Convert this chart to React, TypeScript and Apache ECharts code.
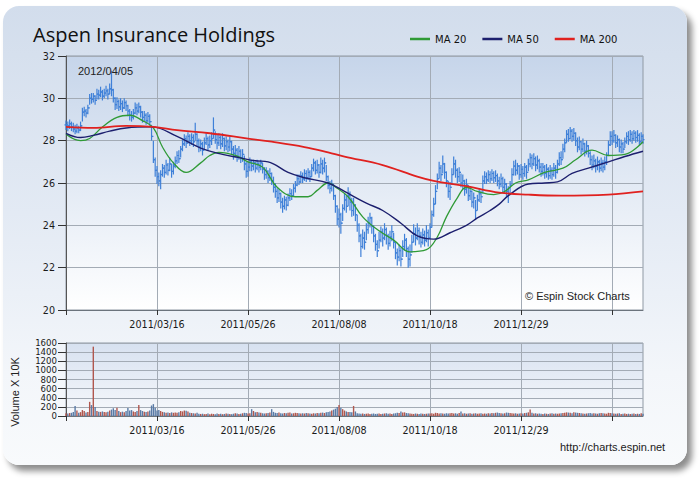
import React, { useEffect, useRef } from "react";
import * as echarts from "echarts";

const HOLIDAYS = ["2011/01/17", "2011/02/21", "2011/04/22", "2011/05/30", "2011/07/04", "2011/09/05", "2011/11/24", "2011/12/26", "2012/01/02", "2012/01/16", "2012/02/20"];
const FIRST_DAY = "2011-01-03";

const CLOSES = [28.75,28.70,28.80,28.65,28.55,28.45,28.60,28.50,28.70,29.35,
29.40,29.30,29.55,30.00,29.95,30.10,29.90,30.20,30.15,30.30,
30.10,30.25,30.35,30.20,30.45,30.40,30.00,29.70,29.85,29.60,
29.75,29.55,29.80,29.65,29.40,29.20,29.10,29.30,29.55,29.40,
29.60,29.35,29.10,29.20,28.95,29.15,28.90,28.20,27.10,26.60,
26.30,26.10,26.40,26.70,26.50,26.85,26.60,26.90,26.55,26.80,
27.05,27.30,27.15,27.60,27.85,28.10,27.90,28.20,28.00,28.15,
27.95,28.30,28.00,27.70,27.85,27.55,27.90,28.10,27.80,28.00,
28.10,28.50,28.05,27.90,28.15,27.85,28.10,27.75,27.95,27.70,
27.95,27.60,27.40,27.55,27.25,27.50,27.20,27.35,26.90,26.55,
26.75,27.00,26.80,26.95,26.70,26.90,26.75,26.95,26.65,26.40,
26.55,26.25,26.45,26.10,25.80,25.60,25.30,25.50,25.10,24.90,
25.20,24.95,25.30,25.50,25.40,25.75,25.90,26.20,26.05,26.35,
26.20,26.45,26.25,26.50,26.30,26.70,26.95,26.60,26.85,26.50,
26.90,26.70,26.95,26.30,25.90,25.75,25.95,25.40,24.90,24.30,
24.50,24.10,24.80,25.20,24.90,25.40,25.10,24.70,24.95,24.50,
24.00,23.50,23.00,23.40,23.20,23.80,24.10,24.35,23.95,23.50,
23.10,22.80,23.30,23.70,23.40,23.80,23.50,23.15,23.45,23.70,
23.20,22.70,22.50,22.80,22.40,23.00,23.30,22.90,22.40,22.60,
23.20,23.60,23.40,23.75,23.50,23.20,23.55,23.30,23.65,23.40,
23.90,24.50,25.00,25.60,26.20,26.70,26.40,26.90,26.50,26.10,
25.60,25.80,26.40,26.90,26.60,26.30,26.50,26.00,26.10,25.70,
25.90,25.40,25.60,25.10,25.30,24.70,25.20,25.50,25.35,26.10,
26.30,26.15,26.40,26.20,26.45,26.25,26.35,26.10,25.95,26.20,
25.80,25.95,25.60,25.50,25.90,26.40,26.80,26.60,26.80,26.40,
26.65,26.45,26.75,26.50,26.90,27.20,26.90,27.15,26.85,27.05,
26.75,26.55,26.75,26.45,26.65,26.35,26.60,26.40,26.70,26.50,
26.90,27.20,27.10,27.60,27.90,28.30,28.10,28.45,28.20,28.35,
28.00,27.70,27.95,27.60,27.85,27.50,27.75,27.40,27.10,26.85,
27.05,26.80,27.00,26.70,26.95,26.75,27.00,27.30,27.80,28.20,
28.00,28.25,27.90,28.05,27.70,27.85,27.60,27.95,28.20,28.05,
28.30,28.10,28.35,28.15,28.25,27.95,28.20,28.05];

const HIGHS = [28.95,28.90,29.00,28.90,28.85,28.75,28.80,28.70,28.90,29.55,
29.60,29.50,29.70,30.20,30.25,30.25,30.15,30.45,30.40,30.55,
30.40,30.45,30.60,30.45,30.70,31.30,30.45,30.05,30.05,29.95,
30.00,29.90,30.00,29.90,29.70,29.50,29.40,29.50,29.80,29.75,
29.80,29.65,29.40,29.40,29.30,29.35,29.25,28.75,28.00,27.20,
26.80,26.50,26.60,26.90,26.85,27.10,26.95,27.20,26.90,27.00,
27.25,27.50,27.55,27.75,28.05,28.30,28.25,28.40,28.30,28.35,
28.30,28.85,28.35,28.10,28.05,27.95,28.15,28.35,28.20,28.25,
28.40,29.10,28.45,28.30,28.35,28.25,28.35,28.15,28.20,28.05,
28.20,28.00,27.75,27.80,27.65,27.75,27.60,27.60,27.30,27.00,
27.00,27.20,27.10,27.10,27.00,27.10,27.00,27.10,26.95,26.75,
26.75,26.60,26.70,26.50,26.30,26.00,25.75,25.70,25.55,25.30,
25.40,25.35,25.50,25.75,25.70,25.95,26.10,26.40,26.40,26.55,
26.50,26.65,26.60,26.70,26.60,26.90,27.15,27.05,27.10,26.90,
27.20,27.10,27.20,26.85,26.35,26.10,26.15,25.95,25.45,24.95,
24.80,24.60,25.00,25.50,25.40,25.80,25.60,25.30,25.30,25.00,
24.50,24.10,23.60,23.80,23.70,24.10,24.40,24.60,24.40,24.00,
23.60,23.30,23.70,23.95,23.85,24.10,23.90,23.60,23.75,24.00,
23.65,23.20,22.90,23.10,22.95,23.30,23.60,23.40,23.00,23.10,
23.55,24.05,23.90,24.10,23.90,23.70,23.85,23.75,24.00,23.80,
24.10,24.70,25.30,25.90,26.45,27.00,26.85,27.30,26.95,26.55,
26.10,26.05,26.70,27.25,27.10,26.70,26.75,26.45,26.40,26.15,
26.20,25.90,25.85,25.65,25.55,25.20,25.45,25.70,25.65,26.35,
26.55,26.50,26.60,26.55,26.65,26.55,26.60,26.45,26.30,26.45,
26.30,26.20,26.00,25.85,26.10,26.70,27.05,27.10,26.95,26.85,
26.90,26.80,26.95,26.85,27.15,27.40,27.35,27.40,27.25,27.30,
27.15,26.95,26.95,26.85,26.90,26.75,26.85,26.75,26.95,26.85,
27.10,27.45,27.50,27.85,28.10,28.50,28.55,28.65,28.55,28.60,
28.40,28.15,28.20,28.00,28.10,27.90,28.00,27.80,27.50,27.30,
27.35,27.15,27.25,27.10,27.20,27.10,27.25,27.45,28.00,28.45,
28.45,28.50,28.30,28.25,28.10,28.05,27.95,28.15,28.40,28.45,
28.50,28.45,28.50,28.45,28.50,28.35,28.40,28.30];

const LOWS = [28.50,28.45,28.55,28.45,28.40,28.30,28.35,28.35,28.45,28.90,
29.15,29.10,29.25,29.70,29.75,29.80,29.70,29.95,29.95,30.05,
29.90,30.00,30.10,29.95,30.20,30.10,29.80,29.45,29.50,29.40,
29.45,29.35,29.50,29.40,29.15,28.95,28.90,29.00,29.25,29.20,
29.30,29.10,28.85,28.90,28.75,28.85,28.70,28.00,26.95,26.30,
25.95,25.85,25.70,26.30,26.25,26.40,26.35,26.55,26.25,26.40,
26.70,26.90,26.95,27.20,27.50,27.75,27.65,27.85,27.75,27.80,
27.70,28.00,27.75,27.45,27.50,27.30,27.55,27.80,27.55,27.65,
27.80,28.10,27.85,27.60,27.75,27.60,27.70,27.50,27.55,27.45,
27.50,27.35,27.10,27.20,27.00,27.10,26.95,27.00,26.60,26.25,
26.30,26.55,26.55,26.60,26.50,26.60,26.50,26.60,26.45,26.15,
26.20,26.00,26.10,25.90,25.55,25.30,25.05,25.10,24.80,24.60,
24.75,24.70,24.90,25.15,25.20,25.35,25.55,25.85,25.90,26.00,
26.00,26.10,26.05,26.15,26.05,26.30,26.55,26.40,26.45,26.25,
26.45,26.40,26.50,26.10,25.70,25.50,25.60,25.20,24.60,24.00,
23.90,23.60,24.20,24.70,24.60,24.90,24.70,24.40,24.45,24.20,
23.70,23.20,22.50,22.90,22.85,23.30,23.60,23.90,23.60,23.20,
22.80,22.50,22.90,23.20,23.00,23.30,23.10,22.85,23.00,23.25,
22.90,22.40,22.10,22.30,22.05,22.50,22.80,22.50,22.00,22.05,
22.70,23.20,23.05,23.30,23.10,22.95,23.10,23.00,23.20,23.00,
23.35,23.90,24.40,25.00,25.70,26.20,26.10,26.45,26.20,25.80,
25.30,25.20,25.90,26.40,26.25,26.00,26.05,25.80,25.70,25.40,
25.50,25.15,25.20,24.85,24.80,24.25,24.70,25.10,25.05,25.50,
25.95,25.95,26.05,26.00,26.10,26.00,26.05,25.85,25.70,25.80,
25.55,25.50,25.35,25.05,25.45,25.95,26.35,26.35,26.40,26.15,
26.25,26.15,26.30,26.20,26.55,26.75,26.65,26.80,26.55,26.65,
26.50,26.30,26.35,26.20,26.25,26.15,26.20,26.15,26.30,26.20,
26.45,26.80,26.85,27.15,27.45,27.90,27.95,28.05,27.95,28.00,
27.75,27.45,27.55,27.35,27.45,27.25,27.35,27.20,26.85,26.60,
26.70,26.50,26.60,26.50,26.55,26.50,26.60,26.85,27.30,27.75,
27.80,27.90,27.65,27.70,27.45,27.40,27.40,27.65,27.85,27.80,
27.95,27.85,28.00,27.90,27.95,27.80,27.85,27.85];

const VOLUMES = [60,55,65,70,90,220,120,70,85,130,
110,75,90,310,240,1520,200,110,95,90,
100,85,80,95,120,140,170,130,180,110,
85,95,80,110,175,120,130,100,90,110,
240,130,110,95,90,100,120,230,260,180,
120,130,110,90,80,70,75,65,80,70,
75,70,80,110,100,120,115,100,70,65,
60,55,70,50,45,50,40,45,55,40,
50,45,40,55,45,50,40,45,55,50,
45,40,50,60,55,45,50,60,70,65,
55,60,150,110,80,90,75,70,60,55,
60,65,75,150,90,70,65,75,60,55,
65,60,70,75,55,60,70,65,60,55,
60,55,65,60,55,50,60,55,65,60,
70,75,65,80,90,100,120,140,160,200,
240,180,150,120,100,90,85,80,220,100,
60,55,50,55,45,50,55,45,50,55,
45,50,55,45,50,55,60,50,55,45,
55,60,70,65,100,75,80,65,60,55,
50,45,55,50,45,55,50,45,50,55,
55,60,50,70,65,55,60,55,50,60,
55,60,65,55,60,50,65,100,55,60,
50,55,60,50,55,60,50,55,60,50,
55,50,60,55,65,60,70,75,65,60,
55,60,75,70,65,60,55,60,50,55,
60,55,65,70,80,140,70,55,60,50,
55,50,45,55,50,45,55,60,50,55,
50,55,60,65,70,80,75,70,60,80,
75,70,65,60,55,50,55,60,65,55,
60,55,50,60,65,60,55,50,70,65,
60,55,50,55,60,45,50,55,45,50,
45,50,55,45,50,45,60,50];

// moving averages: [bar index, value]
const MA20 = [[0,28.3],[8,28.0],[13,28.1],[20,28.65],[28,29.1],[35,29.2],[42,28.95],[48,28.6],[53,27.7],[59,26.95],[66,26.5],[74,26.95],[79,27.3],[84,27.45],[93,27.3],[100,27.0],[108,26.75],[116,25.8],[126,25.35],[133,25.35],[138,25.65],[144,26.0],[149,25.75],[155,25.35],[163,24.4],[171,23.8],[180,23.3],[189,22.75],[198,22.85],[204,23.45],[209,24.4],[215,25.3],[220,25.8],[226,25.6],[235,25.45],[241,25.6],[247,26.0],[254,26.15],[263,26.5],[273,26.7],[280,27.1],[289,27.55],[298,27.3],[307,27.35],[317,27.95]];
const MA50 = [[0,28.35],[8,28.15],[15,28.25],[24,28.45],[33,28.6],[47,28.65],[61,28.2],[74,27.65],[86,27.35],[95,27.2],[104,27.05],[111,27.0],[122,26.5],[131,26.25],[144,26.0],[153,25.6],[165,25.05],[174,24.7],[184,24.1],[193,23.5],[202,23.35],[211,23.65],[220,24.0],[226,24.35],[233,24.7],[238,25.0],[243,25.4],[254,25.95],[263,26.0],[270,26.05],[278,26.45],[287,26.7],[298,27.0],[307,27.25],[317,27.5]];
const MA200 = [[0,28.65],[15,28.6],[33,28.7],[48,28.65],[61,28.5],[79,28.35],[100,28.1],[113,27.95],[131,27.7],[144,27.45],[153,27.25],[174,26.85],[193,26.3],[202,26.1],[220,25.85],[238,25.55],[254,25.45],[272,25.4],[298,25.45],[317,25.6]];

const PRICE_TICKS = { min: 20, max: 32, interval: 2 };
const VOLUME_TICKS = { min: 0, max: 1600, interval: 200 };

function buildTradingDays(start: string, count: number, holidays: string[]) {
  const out: string[] = [];
  const d = new Date(start + "T00:00:00Z");
  while (out.length < count) {
    const wd = d.getUTCDay();
    const s = `${d.getUTCFullYear()}/${String(d.getUTCMonth() + 1).padStart(2, "0")}/${String(d.getUTCDate()).padStart(2, "0")}`;
    if (wd !== 0 && wd !== 6 && holidays.indexOf(s) < 0) out.push(s);
    d.setUTCDate(d.getUTCDate() + 1);
  }
  return out;
}

const DATES = buildTradingDays(FIRST_DAY, CLOSES.length, HOLIDAYS);

const AXIS_FONT = "DejaVu Sans";
const GRID_LINE = "#a3abb5";

function buildOption() {
  const opens = CLOSES.map((c, i) => (i === 0 ? c : CLOSES[i - 1]));
  const ohlc = CLOSES.map((c, i) => [i, opens[i], c, LOWS[i], HIGHS[i]]);
  const vol = VOLUMES.map((v, i) => ({
    value: v,
    itemStyle: { color: CLOSES[i] >= opens[i] ? "#b0574e" : "#5a7ba6" },
  }));
  const labelShow = (i: number) => i > 0 && i < 300 && i % 50 === 0;
  const tickShow = (i: number) => i % 50 === 0;

  const xCommon = (gridIndex: number) => ({
    type: "category",
    gridIndex,
    data: DATES,
    boundaryGap: false,
    axisLine: { show: true, lineStyle: { color: "#6b737c", width: 1 } },
    axisTick: { show: true, interval: tickShow, length: 5, lineStyle: { color: "#333" } },
    axisLabel: { interval: labelShow, margin: 9, color: "#1a1a1a", fontFamily: AXIS_FONT, fontSize: 9.6 },
    splitLine: { show: true, interval: tickShow, lineStyle: { color: GRID_LINE, width: 1 } },
  });

  const barColor = "#3f80d8";

  return {
    animation: false,
    legend: {
      data: ["MA 20", "MA 50", "MA 200"],
      left: 410,
      top: 34,
      padding: 0,
      icon: "rect",
      itemWidth: 20,
      itemHeight: 2.5,
      itemGap: 16,
      textStyle: { fontFamily: AXIS_FONT, fontSize: 10, color: "#111" },
    },
    grid: [
      {
        left: 66, top: 56, width: 577, height: 254, show: true,
        borderColor: "#8f99a4", borderWidth: 1,
        backgroundColor: { type: "linear", x: 0, y: 0, x2: 0, y2: 1, colorStops: [{ offset: 0, color: "#c6d5ea" }, { offset: 1, color: "#ffffff" }] },
      },
      {
        left: 66, top: 343, width: 577, height: 73, show: true,
        borderColor: "#8f99a4", borderWidth: 1,
        backgroundColor: { type: "linear", x: 0, y: 0, x2: 0, y2: 1, colorStops: [{ offset: 0, color: "#d7e1f0" }, { offset: 1, color: "#f7f9fc" }] },
      },
    ],
    xAxis: [xCommon(0), xCommon(1)],
    yAxis: [
      {
        type: "value", gridIndex: 0, ...PRICE_TICKS,
        axisLine: { show: true, lineStyle: { color: "#555" } },
        axisTick: { show: true, length: 8, lineStyle: { color: "#333" } },
        axisLabel: { margin: 11, color: "#1a1a1a", fontFamily: AXIS_FONT, fontSize: 9.6 },
        splitLine: { show: true, lineStyle: { color: GRID_LINE } },
      },
      {
        type: "value", gridIndex: 1, ...VOLUME_TICKS,
        axisLine: { show: true, lineStyle: { color: "#555" } },
        axisTick: { show: true, length: 8, lineStyle: { color: "#333" } },
        axisLabel: {
          margin: 9, color: "#1a1a1a", fontFamily: AXIS_FONT, fontSize: 8.6, lineHeight: 8,
          showMinLabel: true, showMaxLabel: true, hideOverlap: false,
          formatter: (v: number) => String(v),
        },
        splitLine: { show: true, lineStyle: { color: GRID_LINE } },
      },
    ],
    graphic: {
      elements: [
        { type: "text", x: 33, y: 34, z: 100, style: { text: "Aspen Insurance Holdings", fontFamily: "Open Sans", fontSize: 20, fill: "#111", verticalAlign: "middle" } },
        { type: "text", x: 78, y: 71, z: 100, style: { text: "2012/04/05", fontFamily: "Liberation Sans", fontSize: 11, fill: "#222", verticalAlign: "middle" } },
        { type: "text", x: 525, y: 296, z: 100, style: { text: "© Espin Stock Charts", fontFamily: "Liberation Sans", fontSize: 11, fill: "#222", verticalAlign: "middle" } },
        { type: "text", x: 560, y: 447, z: 100, style: { text: "http://charts.espin.net", fontFamily: "Liberation Sans", fontSize: 11, fill: "#222", verticalAlign: "middle" } },
        { type: "text", x: 15, y: 392, rotation: Math.PI / 2, z: 100, style: { text: "Volume X 10K", fontFamily: "Liberation Sans", fontSize: 11, fill: "#222", align: "center", verticalAlign: "middle" } },
      ],
    },
    series: [
      {
        type: "custom",
        name: "OHLC",
        xAxisIndex: 0,
        yAxisIndex: 0,
        z: 2,
        encode: { x: 0, y: [1, 2, 3, 4] },
        data: ohlc,
        renderItem: (params: any, api: any) => {
          const x = api.value(0);
          const o = api.coord([x, api.value(1)]);
          const c = api.coord([x, api.value(2)]);
          const l = api.coord([x, api.value(3)]);
          const h = api.coord([x, api.value(4)]);
          const st = { stroke: barColor, lineWidth: 1.2 };
          return {
            type: "group",
            children: [
              { type: "line", shape: { x1: l[0], y1: l[1], x2: h[0], y2: h[1] }, style: st },
              { type: "line", shape: { x1: o[0] - 1.5, y1: o[1], x2: o[0], y2: o[1] }, style: st },
              { type: "line", shape: { x1: c[0], y1: c[1], x2: c[0] + 1.5, y2: c[1] }, style: st },
            ],
          };
        },
      },
      { type: "line", name: "MA 20", xAxisIndex: 0, yAxisIndex: 0, z: 3, data: MA20, smooth: 0.4, showSymbol: false, color: "#2f9a36", lineStyle: { width: 1.3, color: "#2f9a36" } },
      { type: "line", name: "MA 50", xAxisIndex: 0, yAxisIndex: 0, z: 3, data: MA50, smooth: 0.4, showSymbol: false, color: "#1c1f6e", lineStyle: { width: 1.4, color: "#1c1f6e" } },
      { type: "line", name: "MA 200", xAxisIndex: 0, yAxisIndex: 0, z: 3, data: MA200, smooth: 0.4, showSymbol: false, color: "#e0211f", lineStyle: { width: 1.8, color: "#e0211f" } },
      { type: "bar", name: "Volume", xAxisIndex: 1, yAxisIndex: 1, data: vol, barWidth: 1.4 },
    ],
  };
}

export default function App() {
  const ref = useRef<HTMLDivElement>(null);
  useEffect(() => {
    document.body.style.margin = "0";
    const chart = echarts.init(ref.current as HTMLDivElement, null, { renderer: "svg" });
    chart.setOption(buildOption() as any);
    return () => chart.dispose();
  }, []);
  return (
    <div style={{ position: "relative", width: 700, height: 480, background: "#ffffff", overflow: "hidden" }}>
      <div
        style={{
          position: "absolute", left: 3, top: 6, width: 684, height: 459, borderRadius: 16,
          background: "linear-gradient(to bottom, #d2ddec 0%, #e3eaf4 45%, #f3f6fa 80%, #f8fafc 100%)",
          boxShadow: "5px 6px 6px rgba(0,0,0,0.45)",
        }}
      />
      <div ref={ref} style={{ position: "absolute", left: 0, top: 0, width: 700, height: 480 }} />
    </div>
  );
}
